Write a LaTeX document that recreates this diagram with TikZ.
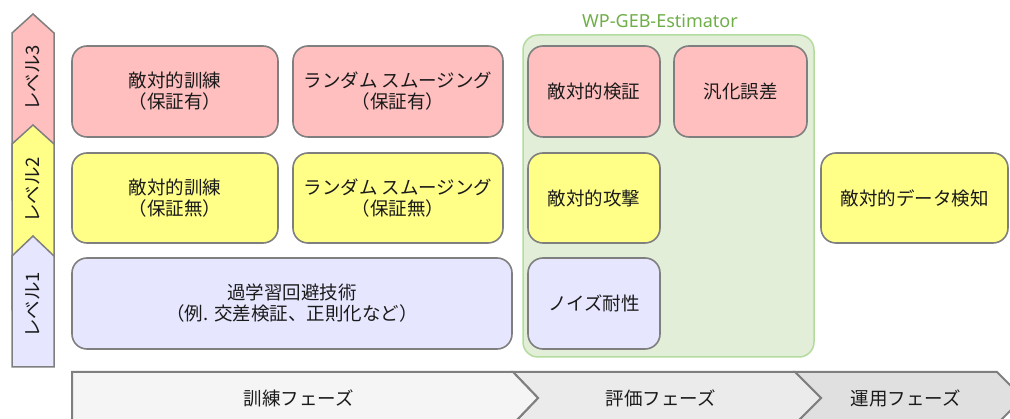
\documentclass[tikz,border=0pt]{standalone}
\usepackage{fontspec}
\newfontfamily\jp{Noto Sans CJK JP}
\newfontfamily\latin{Noto Sans}
\definecolor{pinkf}{HTML}{FFBFBF}
\definecolor{yelf}{HTML}{FFFF88}
\definecolor{lavf}{HTML}{E6E6FF}
\definecolor{grayline}{HTML}{7F7F7F}
\definecolor{greenf}{HTML}{E2EED8}
\definecolor{greenl}{HTML}{B3DB9E}
\definecolor{greent}{HTML}{6FAE48}
\definecolor{phase1}{HTML}{F5F5F5}
\definecolor{phase2}{HTML}{EBEBEB}
\definecolor{phase3}{HTML}{E0E0E0}
\definecolor{txt}{HTML}{1A1A1A}
\tikzset{
  box/.style={draw=grayline, line width=1.6pt, rounded corners=15pt, align=center,
    font=\jp\fontsize{18.5}{21}\selectfont, text=txt, inner sep=0pt},
  lvl/.style={draw=grayline, line width=1.5pt, line join=miter},
  lvltext/.style={rotate=90, font=\jp\fontsize{18.5}{21}\selectfont, text=txt},
  phase/.style={draw=grayline, line width=2pt, line join=miter},
  phasetext/.style={font=\jp\fontsize{18.5}{21}\selectfont, text=txt},
}
\begin{document}
\begin{tikzpicture}[x=1pt, y=-1pt]
\useasboundingbox (0,0) rectangle (1010,419);
\clip (0,0) rectangle (1010,419);

% level arrows
\draw[lvl, fill=pinkf] (12,200) -- (12,33) -- (33,14) -- (54,33) -- (54,200) -- cycle;
\draw[lvl, fill=yelf] (12,310) -- (12,144) -- (33,125) -- (54,144) -- (54,310) -- cycle;
\draw[lvl, fill=lavf] (12,367) -- (12,256) -- (33,236) -- (54,256) -- (54,367) -- cycle;
\node[lvltext] (l3) at (33,78) {レベル3};
\node[lvltext] (l2) at (33,190) {レベル2};
\node[lvltext] (l1) at (33,305) {レベル1};

% green group
\draw[draw=greenl, line width=1.5pt, fill=greenf, rounded corners=15pt] (523,35) rectangle (814,357);
\node[font=\latin\fontsize{18}{21}\selectfont, text=greent] (title) at (660,21) {WP-GEB-Estimator};

% row level 3
\node[box, fill=pinkf, minimum width=206pt, minimum height=91pt] (r3a) at (175,91.5) {敵対的訓練\\（保証有）};
\node[box, fill=pinkf, minimum width=210pt, minimum height=91pt] (r3b) at (398,91.5) {ランダム スムージング\\（保証有）};
\node[box, fill=pinkf, minimum width=132pt, minimum height=91pt] (r3c) at (594,91.5) {敵対的検証};
\node[box, fill=pinkf, minimum width=133pt, minimum height=91pt] (r3d) at (740.5,91.5) {汎化誤差};

% row level 2
\node[box, fill=yelf, minimum width=206pt, minimum height=90pt] (r2a) at (175,198) {敵対的訓練\\（保証無）};
\node[box, fill=yelf, minimum width=210pt, minimum height=90pt] (r2b) at (398,198) {ランダム スムージング\\（保証無）};
\node[box, fill=yelf, minimum width=132pt, minimum height=90pt] (r2c) at (594,198) {敵対的攻撃};
\node[box, fill=yelf, minimum width=187pt, minimum height=90pt] (r2d) at (914.5,198) {敵対的データ検知};

% row level 1
\node[box, fill=lavf, minimum width=440pt, minimum height=91pt] (r1a) at (292,303.5) {過学習回避技術\\（例. 交差検証、正則化など）};
\node[box, fill=lavf, minimum width=132pt, minimum height=91pt] (r1c) at (594,303.5) {ノイズ耐性};

% phases
\draw[phase, fill=phase3] (795,372) -- (997,372) -- (1023,398) -- (997,424) -- (795,424) -- (821,398) -- cycle;
\draw[phase, fill=phase2] (513,372) -- (795,372) -- (821,398) -- (795,424) -- (513,424) -- (538,398) -- cycle;
\draw[phase, fill=phase1] (72,372) -- (513,372) -- (538,398) -- (513,424) -- (72,424) -- cycle;
\node[phasetext] (p1) at (299,398) {訓練フェーズ};
\node[phasetext] (p2) at (661,398) {評価フェーズ};
\node[phasetext] (p3) at (906,398) {運用フェーズ};
\end{tikzpicture}
\end{document}
